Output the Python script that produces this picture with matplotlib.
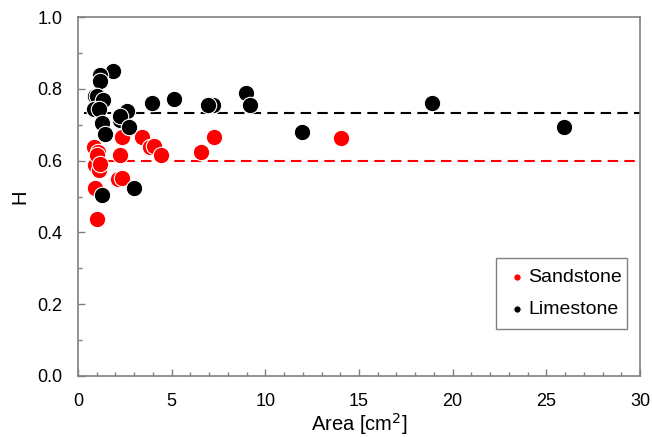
import numpy as np
import matplotlib.pyplot as plt
from matplotlib.ticker import MultipleLocator

plt.rcParams['font.family'] = ['Liberation Sans', 'DejaVu Sans']

# datos
area_arenisca = [1.04, 0.93, 2.13, 2.35, 0.93, 1.13, 0.87, 1.09, 1.04, 1.20,
                 2.24, 2.35, 3.44, 3.82, 4.08, 4.42, 6.57, 7.28, 14.02]
h_arenisca = [0.436, 0.524, 0.548, 0.552, 0.587, 0.573, 0.638, 0.624, 0.617, 0.590,
              0.617, 0.667, 0.667, 0.638, 0.641, 0.617, 0.624, 0.667, 0.663]

area_caliza = [1.86, 1.15, 1.15, 0.90, 1.02, 1.31, 0.84, 1.10, 1.29, 1.42,
               2.64, 2.26, 2.26, 2.70, 3.00, 1.26, 3.93, 5.10, 7.23, 6.92,
               8.96, 9.19, 11.94, 18.88, 25.96]
h_caliza = [0.850, 0.839, 0.823, 0.780, 0.779, 0.769, 0.743, 0.745, 0.706, 0.675,
            0.737, 0.712, 0.725, 0.693, 0.523, 0.505, 0.761, 0.773, 0.756, 0.756,
            0.787, 0.755, 0.679, 0.761, 0.695]

media_arenisca = 0.600
media_caliza = 0.732

fig = plt.figure(figsize=(6.52, 4.37), dpi=100)
ax = fig.add_axes([0.1196, 0.1396, 0.862, 0.8214])

ax.scatter(area_arenisca, h_arenisca, s=140, c='#ff0000', edgecolors='white',
           linewidths=0.8, label='Sandstone', zorder=3)
ax.scatter(area_caliza, h_caliza, s=140, c='black', edgecolors='white',
           linewidths=0.8, label='Limestone', zorder=3)

ax.plot([0.7, 30], [media_arenisca, media_arenisca], color='#ff0000',
        lw=1.5, dashes=(5, 3), zorder=2)
ax.plot([0.3, 30], [media_caliza, media_caliza], color='black',
        lw=1.5, dashes=(5, 3), zorder=2)

ax.set_xlim(0, 30)
ax.set_ylim(0, 1.0)
ax.xaxis.set_major_locator(MultipleLocator(5))
ax.xaxis.set_minor_locator(MultipleLocator(1))
ax.yaxis.set_major_locator(MultipleLocator(0.2))
ax.yaxis.set_minor_locator(MultipleLocator(0.1))
ax.yaxis.set_major_formatter(plt.FuncFormatter(lambda v, p: f'{v:.1f}'))

for s in ax.spines.values():
    s.set_color('#808080')
    s.set_linewidth(1.2)
ax.tick_params(which='both', direction='in', color='#808080', labelsize=13,
               labelcolor='black')
ax.tick_params(which='major', length=5, width=1)
ax.tick_params(which='minor', length=3, width=1)
ax.tick_params(axis='x', pad=12)
ax.tick_params(axis='y', pad=11)

ax.set_xlabel('Area [cm$^2$]', fontsize=14.5, labelpad=1)
ax.set_ylabel('H', fontsize=14.5, labelpad=6)

leg = ax.legend(loc='lower left', bbox_to_anchor=(0.744, 0.131, 0.233, 0.2),
                mode='expand', fontsize=14, markerscale=0.45, handletextpad=0.1,
                handlelength=1.0, borderpad=0.55, labelspacing=0.75,
                borderaxespad=0, fancybox=False, framealpha=1,
                edgecolor='#808080')
leg.get_frame().set_linewidth(1.0)

fig.savefig('out.png', dpi=100)
